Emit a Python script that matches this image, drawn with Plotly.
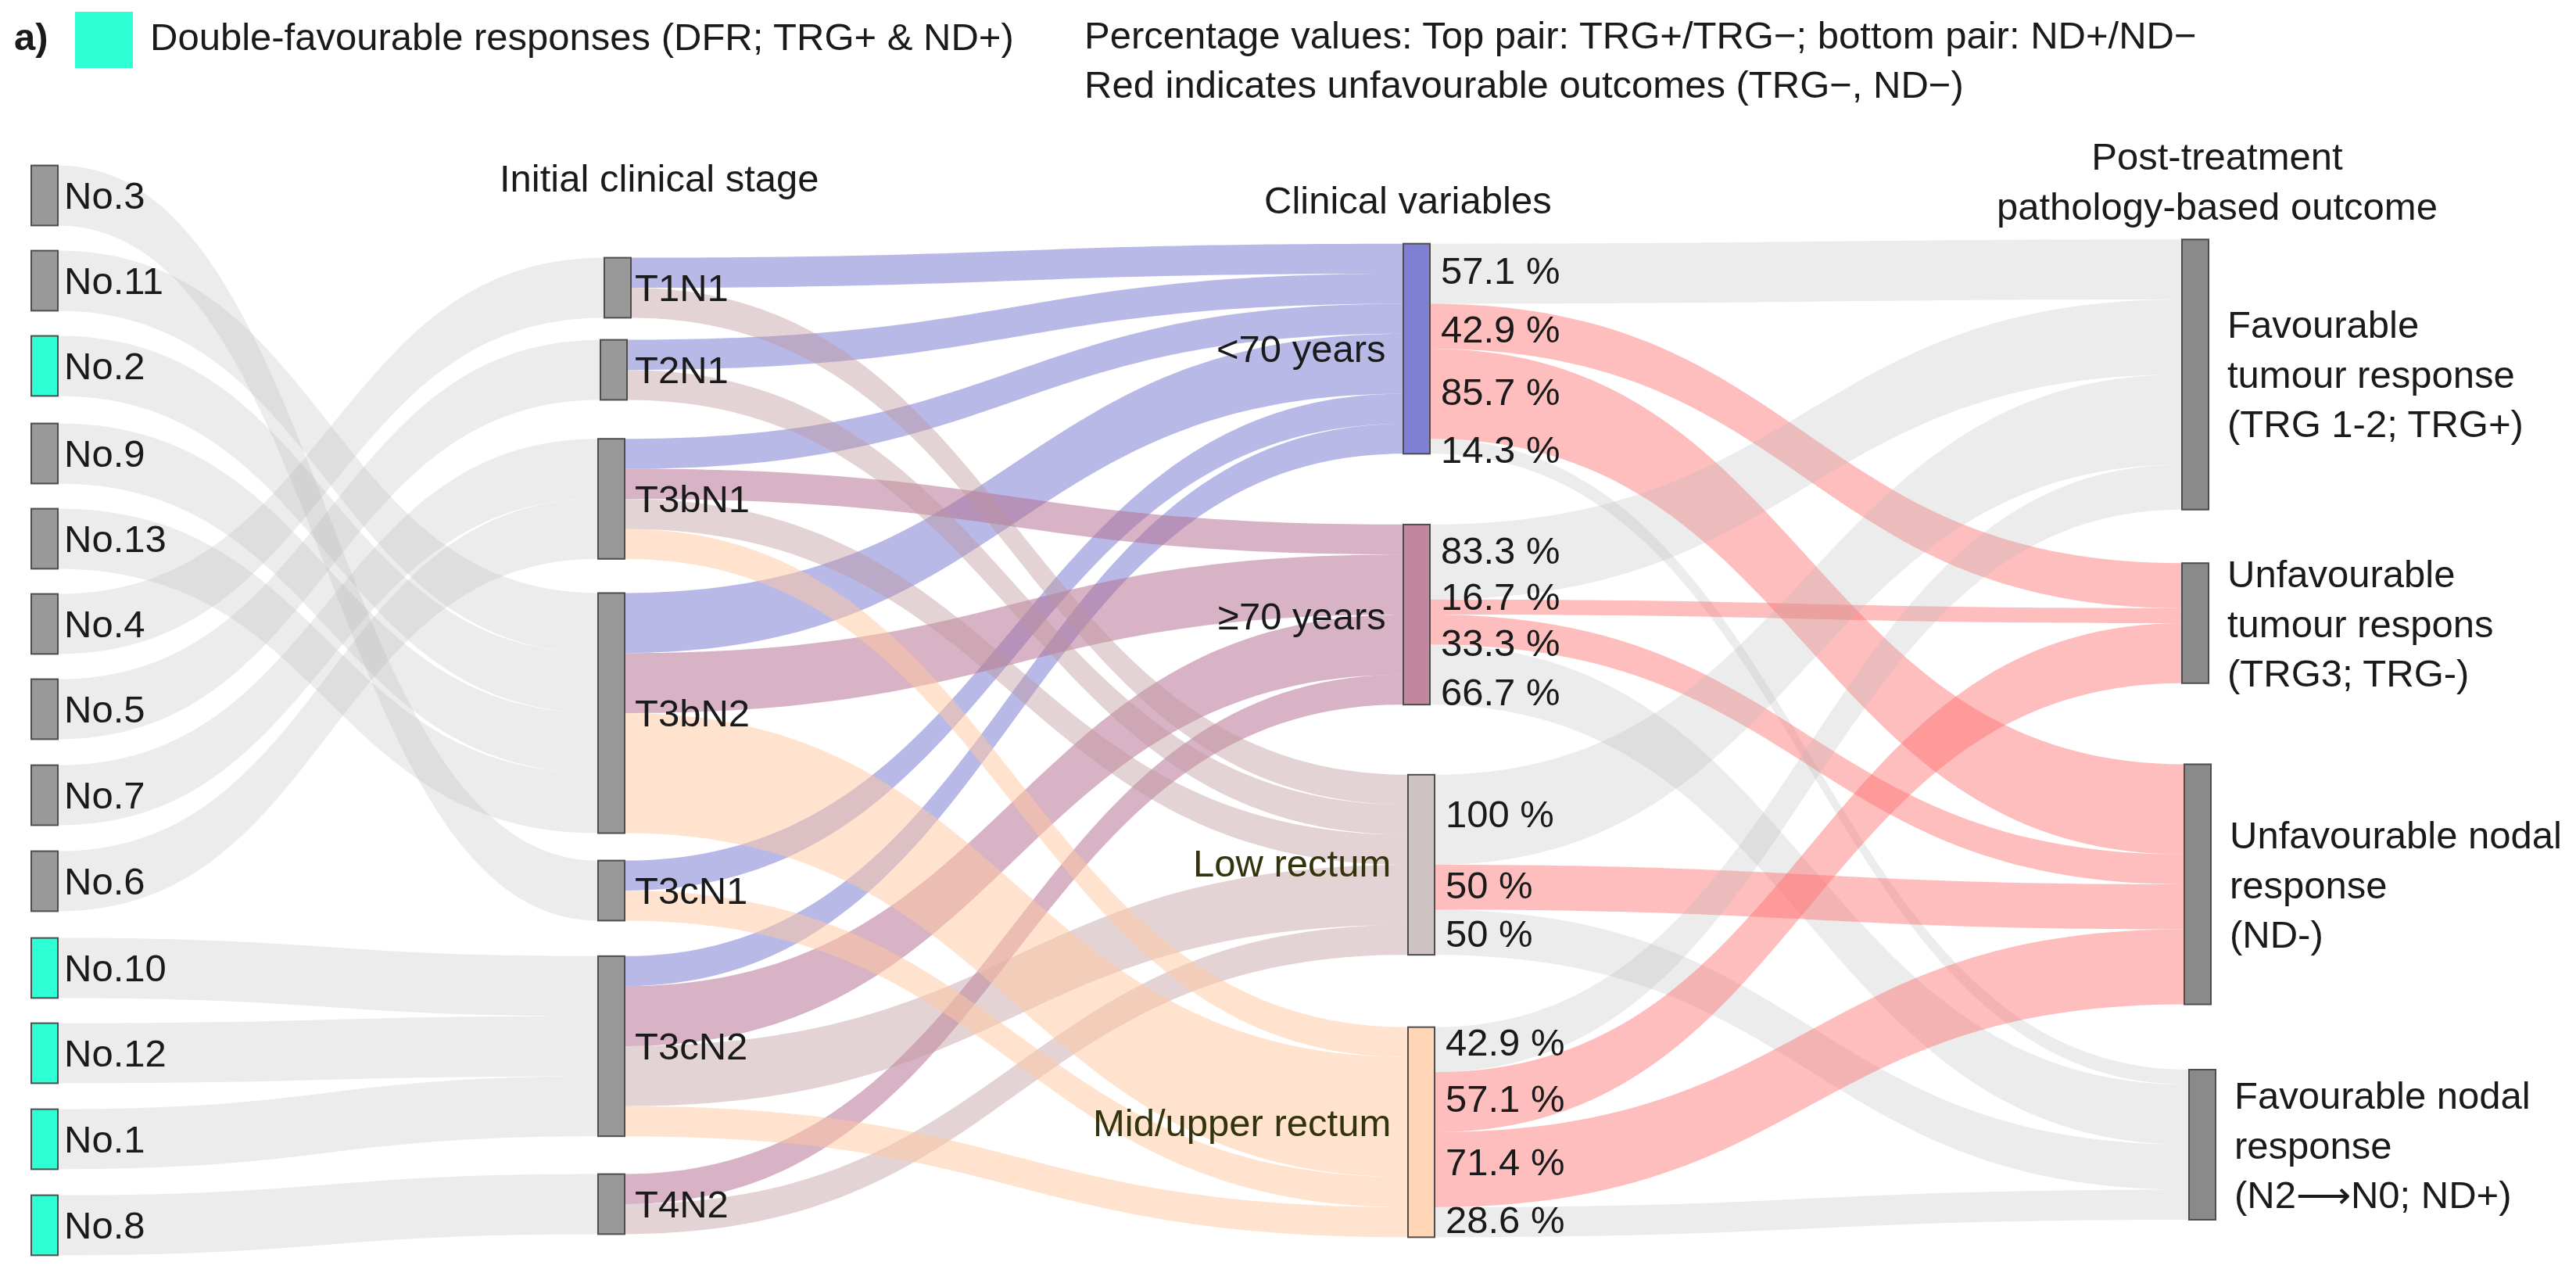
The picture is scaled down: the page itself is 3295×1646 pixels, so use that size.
import plotly.graph_objects as go

W, H = 3295, 1646
FONT = "Liberation Sans, Arial, sans-serif"
TEXT = "#1a1a1a"
OLIVE = "#33330d"

# ---------------- data ----------------
patients = ["No.3", "No.11", "No.2", "No.9", "No.13", "No.4", "No.5",
            "No.7", "No.6", "No.10", "No.12", "No.1", "No.8"]
patient_stage = ["T3cN1", "T3bN2", "T3bN2", "T3bN2", "T3bN2", "T1N1", "T2N1",
                 "T3bN1", "T3bN1", "T3cN2", "T3cN2", "T3cN2", "T4N2"]
dfr_patients = ["No.2", "No.10", "No.12", "No.1", "No.8"]

stages = ["T1N1", "T2N1", "T3bN1", "T3bN2", "T3cN1", "T3cN2", "T4N2"]
stage_lt70 = [1, 1, 1, 2, 1, 1, 0]
stage_ge70 = [0, 0, 1, 2, 0, 2, 1]
stage_low = [1, 1, 1, 0, 0, 2, 1]
stage_mid = [0, 0, 1, 4, 1, 1, 0]

variables = ["<70 years", "≥70 years", "Low rectum", "Mid/upper rectum"]
outcomes = ["Favourable<br>tumour response<br>(TRG 1-2; TRG+)",
            "Unfavourable<br>tumour respons<br>(TRG3; TRG-)",
            "Unfavourable nodal<br>response<br>(ND-)",
            "Favourable nodal<br>response<br>(N2⟶N0; ND+)"]
outcome_favourable = [True, False, False, True]

# patients of each clinical variable reaching each outcome (TRG+, TRG-, ND-, ND+)
lt70_out = [4, 3, 6, 1]
ge70_out = [5, 1, 2, 4]
low_out = [6, 0, 3, 3]
mid_out = [3, 4, 5, 2]

pct_lt70 = ["57.1 %", "42.9 %", "85.7 %", "14.3 %"]
pct_ge70 = ["83.3 %", "16.7 %", "33.3 %", "66.7 %"]
pct_low = ["100 %", "50 %", "50 %"]
pct_mid = ["42.9 %", "57.1 %", "71.4 %", "28.6 %"]

# ---------------- layout positions (pixels) ----------------
patient_cx = 57
patient_cy = [250, 359, 468, 580, 689, 798, 907, 1017, 1127, 1238, 1347, 1457, 1567]
stage_cx = [790, 785, 782, 782, 782, 782, 782]
stage_cy = [368, 473, 638, 912, 1139, 1338, 1540]
var_cx = [1812, 1812, 1818, 1818]
var_cy = [446, 786, 1106, 1448]
var_label_dy = [0, 2, -2, -12]
out_cx = [2808, 2808, 2811, 2817]
out_cy = [479, 797, 1131, 1464]
pct_y = [[346, 421, 501, 575], [704, 763, 822, 885],
         [1041, 1132, 1194], [1333, 1405, 1486, 1560]]
THICK = 34

# ---------------- colours ----------------
GREY_NODE = "#999999"
DFR_COL = "#2effd4"
OUT_NODE = "#8a8a8a"
var_node_col = ["#7f7fd4", "#c2869f", "#cfc2c2", "#ffd5b6"]
GREY_LINK = "rgba(180,180,180,0.26)"
RED_LINK = "rgba(255,110,110,0.45)"
var_link_col = ["rgba(127,127,212,0.55)", "rgba(180,110,145,0.52)",
                "rgba(190,150,155,0.42)", "rgba(255,200,160,0.5)"]

# ---------------- build sankey ----------------
n_p, n_s, n_v = len(patients), len(stages), len(variables)
labels = [""] * (n_p + n_s + n_v + len(outcomes))
node_x = ([patient_cx / W] * n_p + [c / W for c in stage_cx]
          + [c / W for c in var_cx] + [c / W for c in out_cx])
node_y = ([c / H for c in patient_cy] + [c / H for c in stage_cy]
          + [c / H for c in var_cy] + [c / H for c in out_cy])
node_col = ([DFR_COL if p in dfr_patients else GREY_NODE for p in patients]
            + [GREY_NODE] * n_s + var_node_col + [OUT_NODE] * len(outcomes))

src, tgt, val, lcol = [], [], [], []
# each patient appears twice downstream (age and location)
for i, p in enumerate(patients):
    src.append(i)
    tgt.append(n_p + stages.index(patient_stage[i]))
    val.append(2)
    lcol.append(GREY_LINK)
for vi, counts in enumerate([stage_lt70, stage_ge70, stage_low, stage_mid]):
    for si, c in enumerate(counts):
        if c:
            src.append(n_p + si)
            tgt.append(n_p + n_s + vi)
            val.append(c)
            lcol.append(var_link_col[vi])
for vi, counts in enumerate([lt70_out, ge70_out, low_out, mid_out]):
    for oi, c in enumerate(counts):
        if c:
            src.append(n_p + n_s + vi)
            tgt.append(n_p + n_s + n_v + oi)
            val.append(c * 0.5)
            lcol.append(GREY_LINK if outcome_favourable[oi] else RED_LINK)

fig = go.Figure(go.Sankey(
    arrangement="fixed",
    domain=dict(x=[0, 1], y=[0, 1]),
    node=dict(label=labels, x=node_x, y=node_y, color=node_col,
              pad=54, thickness=THICK,
              line=dict(color="#4d4d4d", width=2), hoverinfo="none"),
    link=dict(source=src, target=tgt, value=val, color=lcol, hoverinfo="none"),
    textfont=dict(size=1, color="rgba(0,0,0,0)"),
))


def ann(text, x_px, y_px, xanchor="left", yanchor="middle", size=49,
        color=TEXT, align="left"):
    return dict(text=text, x=x_px / W, y=1 - y_px / H, xref="paper", yref="paper",
                xanchor=xanchor, yanchor=yanchor, showarrow=False, align=align,
                font=dict(size=size, color=color, family=FONT))


anns = []
for p, cy in zip(patients, patient_cy):
    anns.append(ann(p, patient_cx + THICK / 2 + 6, cy))
for s, cy in zip(stages, stage_cy):
    anns.append(ann(s, 810, cy))
for vi, (v, cx, cy) in enumerate(zip(variables, var_cx, var_cy)):
    anns.append(ann(v, cx - THICK / 2 - 20, cy + var_label_dy[vi], xanchor="right",
                    color=TEXT if vi < 2 else OLIVE))
for vi, plist in enumerate([pct_lt70, pct_ge70, pct_low, pct_mid]):
    for t, y in zip(plist, pct_y[vi]):
        anns.append(ann(t, var_cx[vi] + THICK / 2 + 12, y))
for o, cx, cy in zip(outcomes, out_cx, out_cy):
    anns.append(ann(o, cx + THICK / 2 + 22, cy))

# headers
anns.append(ann("Initial clinical stage", 843, 228, xanchor="center"))
anns.append(ann("Clinical variables", 1801, 256, xanchor="center"))
anns.append(ann("Post-treatment<br>pathology-based outcome", 2836, 232,
                xanchor="center", align="center"))
# top legend texts
anns.append(ann("<b>a)</b>", 16, 47))
anns.append(ann("Double-favourable responses (DFR; TRG+ &amp; ND+)", 190, 47))
anns.append(ann("Percentage values: Top pair: TRG+/TRG−; bottom pair: ND+/ND−", 1385, 45))
anns.append(ann("Red indicates unfavourable outcomes (TRG−, ND−)", 1385, 108))

fig.update_layout(
    width=W, height=H,
    margin=dict(l=0, r=0, t=0, b=0),
    paper_bgcolor="white",
    font=dict(family=FONT, color=TEXT),
    annotations=anns,
    shapes=[dict(type="rect", xref="paper", yref="paper",
                 x0=96 / W, x1=170 / W, y0=1 - 87 / H, y1=1 - 15 / H,
                 fillcolor=DFR_COL, line=dict(width=0))],
)

fig.write_html("out.html")
